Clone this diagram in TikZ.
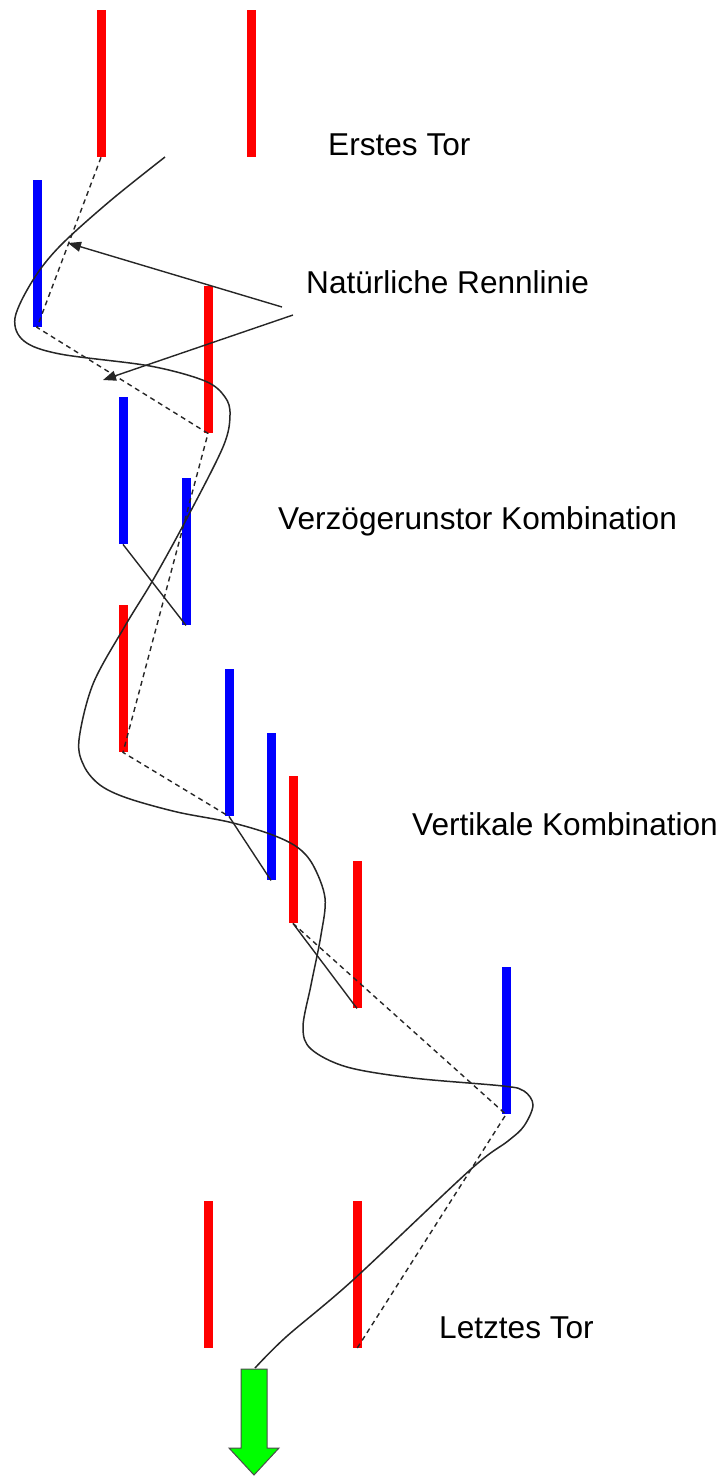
\documentclass[tikz,border=0pt]{standalone}
\usepackage{fontspec}
\setmainfont{Liberation Sans}
\usetikzlibrary{arrows.meta}
\begin{document}
\begin{tikzpicture}[x=1pt,y=-1pt,
  pole/.style={rectangle,inner sep=0pt,minimum width=9pt,minimum height=147pt,anchor=north},
  redpole/.style={pole,fill={rgb,255:red,255;green,0;blue,0}},
  bluepole/.style={pole,fill={rgb,255:red,0;green,0;blue,255}},
  ideal/.style={dashed,dash pattern=on 5pt off 4pt,line width=1.4pt,black!85},
  link/.style={line width=1.4pt,black!85},
  race/.style={line width=1.5pt,black!85},
  pointer/.style={line width=1.4pt,black!85,-{Triangle[length=13pt,width=10pt]}},
  lbl/.style={anchor=base west,inner sep=0pt,font=\fontsize{31.6}{38}\selectfont}]
\useasboundingbox (0,0) rectangle (725,1476);
% poles
\node[redpole]  (p1)  at (101,10) {};
\node[redpole]  (p2)  at (251,10) {};
\node[bluepole] (p3)  at (37,180) {};
\node[redpole]  (p4)  at (208,286) {};
\node[bluepole] (p5)  at (123,397) {};
\node[bluepole] (p6)  at (186,478) {};
\node[redpole]  (p7)  at (123,605) {};
\node[bluepole] (p8)  at (229,669) {};
\node[bluepole] (p9)  at (271,733) {};
\node[redpole]  (p10) at (293,776) {};
\node[redpole]  (p11) at (357,861) {};
\node[bluepole] (p12) at (506,967) {};
\node[redpole]  (p13) at (208,1201) {};
\node[redpole]  (p14) at (357,1201) {};
% ideal line
\draw[ideal] (p1.south) -- (p3.south) -- (p4.south) -- (p7.south) -- (p8.south);
\draw[ideal] (p10.south) -- (p12.south) -- (p14.south);
\draw[link] (p5.south) -- (p6.south);
\draw[link] (p8.south) -- (p9.south);
\draw[link] (p10.south) -- (p11.south);
% racing line
\coordinate (rs) at (165,157);
\coordinate (re) at (255,1368);
\draw[race] plot[smooth,tension=0.55] coordinates {
 (165,157) (110,201) (60,246) (33,280) (15,318) (24,341) (60,354) (150,366) (205,381) (225,397) (230,415) (223,447)
 (186,520) (153,580) (125,626) (93,684) (79,740) (84,766) (100,785) (127,798) (177,812) (229,822) (270,834) (297,847) (313,865)
 (325,898) (321,935) (311,985) (303,1027) (311,1049) (347,1067) (413,1078) (503,1086) (524,1091) (533,1105)
 (524,1126) (508,1141) (470,1170) (353,1280) (286,1337) (255,1368)};
% green finish arrow
\draw[fill={rgb,255:red,0;green,255;blue,0},draw=black!70,line width=1pt]
  (241,1369) -- (267,1369) -- (267,1448) -- (279,1448) -- (254,1475) -- (229,1448) -- (241,1448) -- cycle;
% labels
\node[lbl] (t1) at (328,155) {Erstes Tor};
\node[lbl] (t2) at (306,293) {Natürliche Rennlinie};
\node[lbl] (t3) at (278,529) {Verzögerunstor Kombination};
\node[lbl] (t4) at (412,835) {Vertikale Kombination};
\node[lbl] (t5) at (439,1338) {Letztes Tor};
% pointers
\coordinate (a1s) at (282,307);
\coordinate (a1e) at (68,243);
\coordinate (a2s) at (293,315);
\coordinate (a2e) at (103,380);
\draw[pointer] (a1s) -- (a1e);
\draw[pointer] (a2s) -- (a2e);
\end{tikzpicture}
\end{document}
